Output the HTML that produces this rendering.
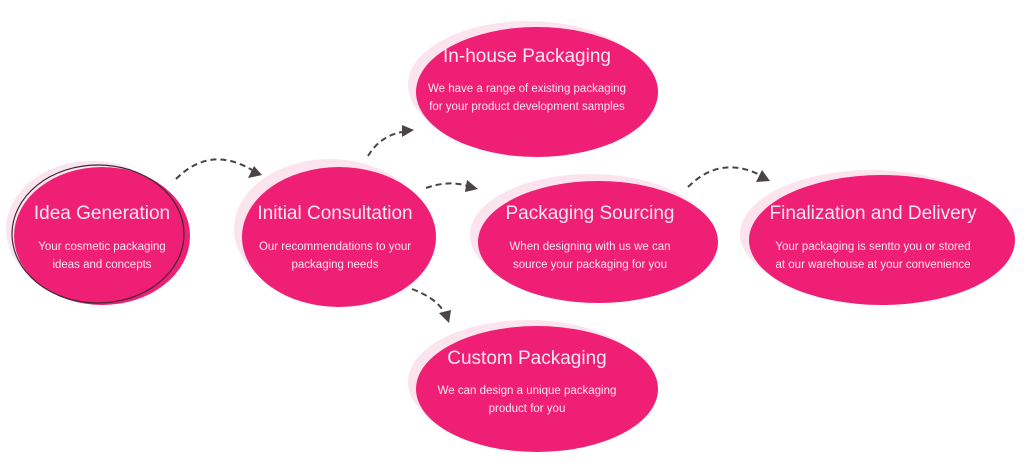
<!DOCTYPE html>
<html><head><meta charset="utf-8"><style>
html,body{margin:0;padding:0;background:#fff;}
svg{display:block;}
.t{font-family:"Liberation Sans",sans-serif;fill:#fde8f1;text-anchor:middle;}
.h{font-size:19px;}
.b{font-size:11.5px;}
.sh{fill:#fce4ee;}
.e{fill:#ee1f74;}
.a{fill:none;stroke:#4a4446;stroke-width:2;stroke-dasharray:6 4;}
.ah{fill:#4a4446;}
</style></head><body>
<svg width="1024" height="464" viewBox="0 0 1024 464">
<!-- shadows -->
<ellipse class="sh" cx="92" cy="229" rx="86" ry="68"/>
<ellipse class="sh" cx="330" cy="229" rx="96" ry="70"/>
<ellipse class="sh" cx="528" cy="85" rx="120" ry="64"/>
<ellipse class="sh" cx="590" cy="235" rx="120" ry="61"/>
<ellipse class="sh" cx="872" cy="234" rx="132" ry="64"/>
<ellipse class="sh" cx="528" cy="382" rx="120" ry="62"/>
<!-- main -->
<ellipse class="e" cx="102" cy="236" rx="88" ry="69"/>
<ellipse cx="98" cy="234" rx="86" ry="69" fill="none" stroke="#3a2a30" stroke-width="1.2"/>
<ellipse class="e" cx="339" cy="237" rx="97" ry="70"/>
<ellipse class="e" cx="537" cy="92" rx="121" ry="65"/>
<ellipse class="e" cx="598" cy="242" rx="120" ry="61"/>
<ellipse class="e" cx="882" cy="240" rx="133" ry="65"/>
<ellipse class="e" cx="537" cy="389" rx="121" ry="63"/>
<!-- text -->
<text class="t h" x="102" y="219">Idea Generation</text>
<text class="t b" x="102" y="250">Your cosmetic packaging</text>
<text class="t b" x="102" y="268">ideas and concepts</text>
<text class="t h" x="335" y="219">Initial Consultation</text>
<text class="t b" x="335" y="250">Our recommendations to your</text>
<text class="t b" x="335" y="268">packaging needs</text>
<text class="t h" x="527" y="62">In-house Packaging</text>
<text class="t b" x="527" y="92">We have a range of existing packaging</text>
<text class="t b" x="527" y="110">for your product development samples</text>
<text class="t h" x="590" y="219">Packaging Sourcing</text>
<text class="t b" x="590" y="250">When designing with us we can</text>
<text class="t b" x="590" y="268">source your packaging for you</text>
<text class="t h" x="873" y="219">Finalization and Delivery</text>
<text class="t b" x="873" y="250">Your packaging is sentto you or stored</text>
<text class="t b" x="873" y="268">at our warehouse at your convenience</text>
<text class="t h" x="527" y="364">Custom Packaging</text>
<text class="t b" x="527" y="394">We can design a unique packaging</text>
<text class="t b" x="527" y="412">product for you</text>
<!-- arrows -->
<path class="a" d="M176 179 Q210 145 252 170"/>
<polygon class="ah" points="262,175 248,178 254,166"/>
<path class="a" d="M368 156 Q380 136 402 132"/>
<polygon class="ah" points="414,130 402,125 402,137"/>
<path class="a" d="M426 188 Q448 180 468 186"/>
<polygon class="ah" points="478,189 465,192 467,180"/>
<path class="a" d="M412 289 Q436 298 444 312"/>
<polygon class="ah" points="449,323 439,313 451,310"/>
<path class="a" d="M688 187 Q720 155 760 175"/>
<polygon class="ah" points="770,181 756,182 762,170"/>
</svg>
</body></html>
